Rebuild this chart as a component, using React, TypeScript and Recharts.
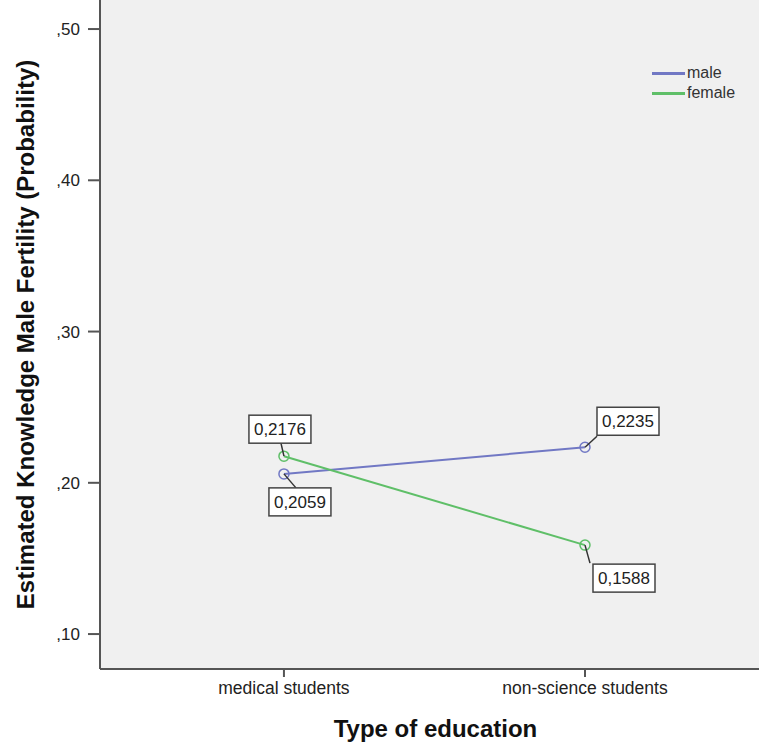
import { CartesianGrid, LabelList, Line, LineChart, XAxis, YAxis } from 'recharts';

const categories = ['medical students', 'non-science students'];
const male = [0.2059, 0.2235];
const female = [0.2176, 0.1588];
const yTicks = [0.1, 0.2, 0.3, 0.4, 0.5];

const data = categories.map((name, i) => ({ x: i + 1, name, male: male[i], female: female[i] }));

const MALE_COLOR = '#7178c4';
const FEMALE_COLOR = '#5fbf68';
const AXIS_COLOR = '#555';
const FONT = 'Liberation Sans, Arial, sans-serif';

// box centre + leader end, relative to the point
const maleLabelPos = [
  { bx: 16, by: 28, lx: 12, ly: 14 },
  { bx: 43, by: -26, lx: 12, ly: -11 },
];
const femaleLabelPos = [
  { bx: -4, by: -27, lx: -3, ly: -13 },
  { bx: 39, by: 33, lx: 5, ly: 18 },
];

function fmt(v: number) {
  return v.toFixed(4).replace('.', ',');
}

function makeLabel(pos: { bx: number; by: number; lx: number; ly: number }[]) {
  return (props: any) => {
    const { x, y, value, index } = props;
    const p = pos[index];
    const w = 62;
    const h = 28;
    return (
      <g>
        <line x1={x} y1={y} x2={x + p.lx} y2={y + p.ly} stroke="#333" strokeWidth={1.5} />
        <rect x={x + p.bx - w / 2} y={y + p.by - h / 2} width={w} height={h} fill="#fff" stroke="#444" strokeWidth={1.5} />
        <text x={x + p.bx} y={y + p.by + 6} textAnchor="middle" fontSize={17} fill="#222" fontFamily={FONT}>
          {fmt(value)}
        </text>
      </g>
    );
  };
}

const LegendBox = () => (
  <div style={{ position: 'absolute', left: 652, top: 63, fontFamily: FONT, fontSize: 16, color: '#333' }}>
    {[
      ['male', MALE_COLOR],
      ['female', FEMALE_COLOR],
    ].map(([name, c]) => (
      <div key={name} style={{ display: 'flex', alignItems: 'center', height: 20 }}>
        <span style={{ display: 'inline-block', width: 33, height: 3, background: c, marginRight: 2 }} />
        <span>{name}</span>
      </div>
    ))}
  </div>
);

export default function App() {
  return (
    <div style={{ position: 'relative', width: 759, height: 746 }}>
      <style>{`body{margin:0}`}</style>
      <LineChart width={759} height={746} data={data} margin={{ top: 0, right: 0, bottom: 0, left: 0 }}>
        <CartesianGrid fill="#f0f0f0" stroke="none" horizontal={false} vertical={false} />
        <XAxis
          dataKey="x"
          type="number"
          domain={[0.389, 2.578]}
          ticks={[1, 2]}
          tickFormatter={(v: number) => categories[v - 1]}
          height={77}
          stroke={AXIS_COLOR}
          strokeWidth={2}
          tickSize={8}
          tickMargin={5}
          tick={{ fontSize: 17.5, fill: '#222', fontFamily: FONT }}
          label={{ value: 'Type of education', position: 'insideBottom', offset: 9, dx: 6, fontSize: 24, fontWeight: 'bold', fill: '#111', fontFamily: FONT }}
        />
        <YAxis
          type="number"
          domain={[0.0769, 0.5192]}
          ticks={yTicks}
          tickFormatter={(v: number) => v.toFixed(2).replace('0.', ',')}
          width={100}
          stroke={AXIS_COLOR}
          strokeWidth={2}
          tickSize={12}
          tickMargin={8}
          tick={{ fontSize: 17, fill: '#222', fontFamily: FONT }}
          label={{ value: 'Estimated Knowledge Male Fertility (Probability)', angle: -90, position: 'insideLeft', offset: 25, style: { textAnchor: 'middle' }, fontSize: 24, fontWeight: 'bold', fill: '#111', fontFamily: FONT }}
        />
        <Line dataKey="male" stroke={MALE_COLOR} strokeWidth={2} isAnimationActive={false}
          dot={{ r: 5, fill: 'none', stroke: MALE_COLOR, strokeWidth: 1.5 }} activeDot={false}>
          <LabelList dataKey="male" content={makeLabel(maleLabelPos)} />
        </Line>
        <Line dataKey="female" stroke={FEMALE_COLOR} strokeWidth={2} isAnimationActive={false}
          dot={{ r: 5, fill: 'none', stroke: FEMALE_COLOR, strokeWidth: 1.5 }} activeDot={false}>
          <LabelList dataKey="female" content={makeLabel(femaleLabelPos)} />
        </Line>
      </LineChart>
      <LegendBox />
    </div>
  );
}
